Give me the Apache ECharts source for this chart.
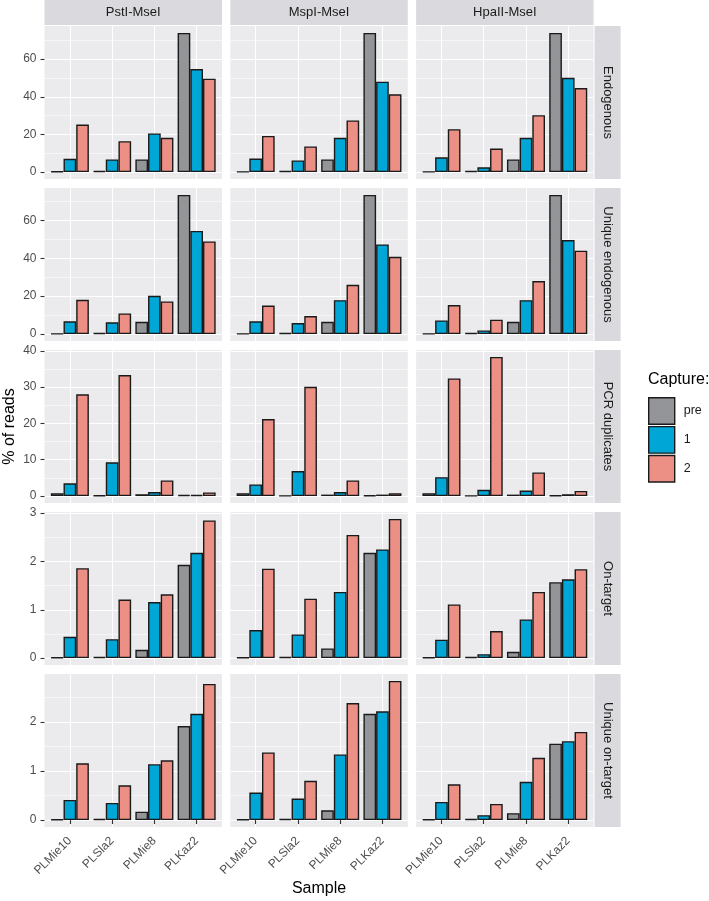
<!DOCTYPE html>
<html>
<head>
<meta charset="utf-8">
<title>% of reads by sample</title>
<script src="https://cdn.jsdelivr.net/npm/echarts@6/dist/echarts.min.js"></script>
<style>
  html, body { margin: 0; padding: 0; background: #fff; }
  #chart { width: 709px; height: 901px; }
</style>
</head>
<body>
<div id="chart"></div>
<script>
var samples = ['PLMie10', 'PLSla2', 'PLMie8', 'PLKaz2'];
var enzymes = ['PstI-MseI', 'MspI-MseI', 'HpaII-MseI'];
var metrics = ['Endogenous', 'Unique endogenous', 'PCR duplicates', 'On-target', 'Unique on-target'];
var captures = ['pre', '1', '2'];

// each panel: [pre, capture 1, capture 2], values in sample order
var endoPst = [[0.3, 0.5, 6.7, 73.9], [7.0, 6.7, 20.5, 54.7], [25.2, 16.4, 18.2, 49.6]];
var endoMsp = [[0.2, 0.5, 6.7, 73.9], [7.2, 6.2, 18.2, 48.0], [19.2, 13.6, 27.4, 41.3]];
var endoHpa = [[0.2, 0.5, 6.7, 73.9], [7.8, 2.5, 18.2, 50.1], [22.8, 12.5, 30.2, 44.6]];

var uEndoPst = [[0.2, 0.5, 6.5, 73.4], [6.7, 6.2, 20.2, 54.4], [18.1, 10.9, 17.2, 48.9]];
var uEndoMsp = [[0.2, 0.5, 6.5, 73.4], [6.7, 5.8, 17.9, 47.3], [15.0, 9.5, 26.0, 40.8]];
var uEndoHpa = [[0.2, 0.5, 6.5, 73.4], [7.2, 1.9, 17.9, 49.6], [15.3, 7.6, 28.0, 44.0]];

var pcrPst = [[0.8, 0.2, 0.5, 0.3], [3.5, 9.3, 1.1, 0.3], [28.0, 33.3, 4.3, 1.0]];
var pcrMsp = [[0.8, 0.1, 0.4, 0.2], [3.2, 6.9, 1.1, 0.4], [21.2, 30.1, 4.3, 0.8]];
var pcrHpa = [[0.8, 0.1, 0.4, 0.2], [5.2, 1.7, 1.5, 0.5], [32.4, 38.3, 6.5, 1.4]];

var onPst = [[0.01, 0.02, 0.17, 1.93], [0.44, 0.39, 1.16, 2.18], [1.86, 1.21, 1.32, 2.85]];
var onMsp = [[0.01, 0.02, 0.20, 2.18], [0.58, 0.49, 1.37, 2.25], [1.85, 1.23, 2.55, 2.88]];
var onHpa = [[0.01, 0.02, 0.13, 1.57], [0.38, 0.08, 0.80, 1.63], [1.11, 0.56, 1.37, 1.84]];

var uOnPst = [[0.01, 0.02, 0.17, 1.92], [0.41, 0.35, 1.14, 2.17], [1.16, 0.71, 1.22, 2.78]];
var uOnMsp = [[0.01, 0.02, 0.20, 2.17], [0.56, 0.44, 1.34, 2.22], [1.38, 0.80, 2.39, 2.84]];
var uOnHpa = [[0.01, 0.02, 0.14, 1.56], [0.37, 0.10, 0.78, 1.61], [0.73, 0.33, 1.27, 1.80]];

// y tick labels for each row
var yTicks = [[0, 20, 40, 60], [0, 20, 40, 60], [0, 10, 20, 30, 40], [0, 1, 2, 3], [0, 1, 2]];

var rows = [
    [endoPst, endoMsp, endoHpa],
    [uEndoPst, uEndoMsp, uEndoHpa],
    [pcrPst, pcrMsp, pcrHpa],
    [onPst, onMsp, onHpa],
    [uOnPst, uOnMsp, uOnHpa]
];

var colors = ['#939599', '#00A6D6', '#EC9085'];
var FONT = 'Liberation Sans, Arial, sans-serif';

// layout of the facet panels
var LEFT0 = 44.5, COLSTEP = 185.8, PW = 177.5;
var TOP0 = 26, ROWSTEP = 162, PH = 153;

var chart = echarts.init(document.getElementById('chart'));

var grids = [], xAxes = [], yAxes = [], minorAxes = [], series = [], graphics = [];

rows.forEach(function (panels, r) {
    var top = 0;
    panels.forEach(function (p) {
        p.forEach(function (arr) {
            arr.forEach(function (v) { if (v > top) top = v; });
        });
    });
    var yMin = -0.05 * top, yMax = 1.05 * top;
    var ticks = yTicks[r];
    var step = ticks[1] - ticks[0];
    var minor = [];
    ticks.forEach(function (t) {
        if (t + step / 2 < yMax) minor.push(t + step / 2);
    });
    var last = r === rows.length - 1;

    panels.forEach(function (panel, c) {
        var idx = r * 3 + c;
        grids.push({
            left: LEFT0 + c * COLSTEP, top: TOP0 + r * ROWSTEP, width: PW, height: PH,
            show: true, backgroundColor: '#EBEBEE', borderWidth: 0,
            containLabel: false, outerBoundsMode: 'none'
        });
        xAxes.push({
            gridIndex: idx, type: 'value', min: 0.4, max: 4.6,
            axisLine: { show: false },
            axisTick: { show: last, customValues: [1, 2, 3, 4], length: 4, lineStyle: { color: '#333', width: 1.1 } },
            axisLabel: {
                show: last, customValues: [1, 2, 3, 4], rotate: 45, margin: 12,
                fontSize: 12, color: '#4D4D4D', fontFamily: FONT,
                formatter: function (v) { return samples[v - 1]; }
            },
            splitLine: { show: true, lineStyle: { color: '#fff', width: 1.1 } }
        });
        yAxes.push({
            gridIndex: idx, type: 'value', min: yMin, max: yMax,
            axisLine: { show: false },
            axisTick: { show: c === 0, customValues: ticks, length: 4, lineStyle: { color: '#333', width: 1.1 } },
            axisLabel: { show: c === 0, customValues: ticks, margin: 8, fontSize: 12, color: '#4D4D4D', fontFamily: FONT },
            splitLine: { show: true, lineStyle: { color: '#fff', width: 1.1 } }
        });
        minorAxes.push({
            gridIndex: idx, type: 'value', min: yMin, max: yMax, position: 'left',
            axisLine: { show: false },
            axisTick: { show: false, customValues: minor },
            axisLabel: { show: false, customValues: minor },
            splitLine: { show: true, lineStyle: { color: '#fff', width: 0.55 } }
        });

        captures.forEach(function (cap, k) {
            series.push({
                type: 'bar', name: cap, xAxisIndex: idx, yAxisIndex: idx,
                data: panel[k].map(function (v, i) { return [i + 1, v]; }),
                barGap: '0%', barCategoryGap: '10%',
                itemStyle: { color: colors[k], borderColor: '#1A1A1A', borderWidth: 1.4 },
                emphasis: { disabled: true },
                silent: true
            });
        });

        // top strips
        if (r === 0) {
            graphics.push({
                type: 'rect', silent: true,
                shape: { x: LEFT0 + c * COLSTEP, y: 0, width: PW, height: 25 },
                style: { fill: '#DADADE' }
            });
            graphics.push({
                type: 'text', silent: true,
                x: LEFT0 + c * COLSTEP + PW / 2, y: 12.5,
                style: {
                    text: enzymes[c], fill: '#1A1A1A', fontSize: 13, fontFamily: FONT,
                    align: 'center', verticalAlign: 'middle', textAlign: 'center', textVerticalAlign: 'middle'
                }
            });
        }
    });

    // right strips
    var sx = LEFT0 + 2 * COLSTEP + PW + 1;
    graphics.push({
        type: 'rect', silent: true,
        shape: { x: sx, y: TOP0 + r * ROWSTEP, width: 26, height: PH },
        style: { fill: '#DADADE' }
    });
    graphics.push({
        type: 'text', silent: true,
        x: sx + 13, y: TOP0 + r * ROWSTEP + PH / 2, rotation: -Math.PI / 2,
        style: {
            text: metrics[r], fill: '#1A1A1A', fontSize: 13, fontFamily: FONT,
            align: 'center', verticalAlign: 'middle', textAlign: 'center', textVerticalAlign: 'middle'
        }
    });
});

// axis titles
graphics.push({
    type: 'text', silent: true,
    x: 10, y: TOP0 + (4 * ROWSTEP + PH) / 2, rotation: Math.PI / 2,
    style: {
        text: '% of reads', fill: '#000', fontSize: 16, fontFamily: FONT,
        align: 'center', verticalAlign: 'middle', textAlign: 'center', textVerticalAlign: 'middle'
    }
});
graphics.push({
    type: 'text', silent: true,
    x: LEFT0 + (2 * COLSTEP + PW) / 2, y: 889,
    style: {
        text: 'Sample', fill: '#000', fontSize: 16, fontFamily: FONT,
        align: 'center', verticalAlign: 'middle', textAlign: 'center', textVerticalAlign: 'middle'
    }
});

chart.setOption({
    animation: false,
    title: {
        text: 'Capture:', left: 648, top: 372, padding: 0,
        textStyle: { fontSize: 16, fontWeight: 'normal', color: '#000', fontFamily: FONT }
    },
    legend: {
        data: captures, orient: 'vertical', left: 648, top: 397, padding: 0,
        itemWidth: 26, itemHeight: 26.5, itemGap: 1, icon: 'rect', selectedMode: false,
        itemStyle: { borderColor: '#1A1A1A', borderWidth: 1.4 },
        textStyle: { fontSize: 12.5, color: '#1A1A1A', fontFamily: FONT, padding: [0, 0, 0, 4] }
    },
    grid: grids,
    xAxis: xAxes,
    yAxis: yAxes.concat(minorAxes),
    series: series,
    graphic: graphics
});
</script>
</body>
</html>
